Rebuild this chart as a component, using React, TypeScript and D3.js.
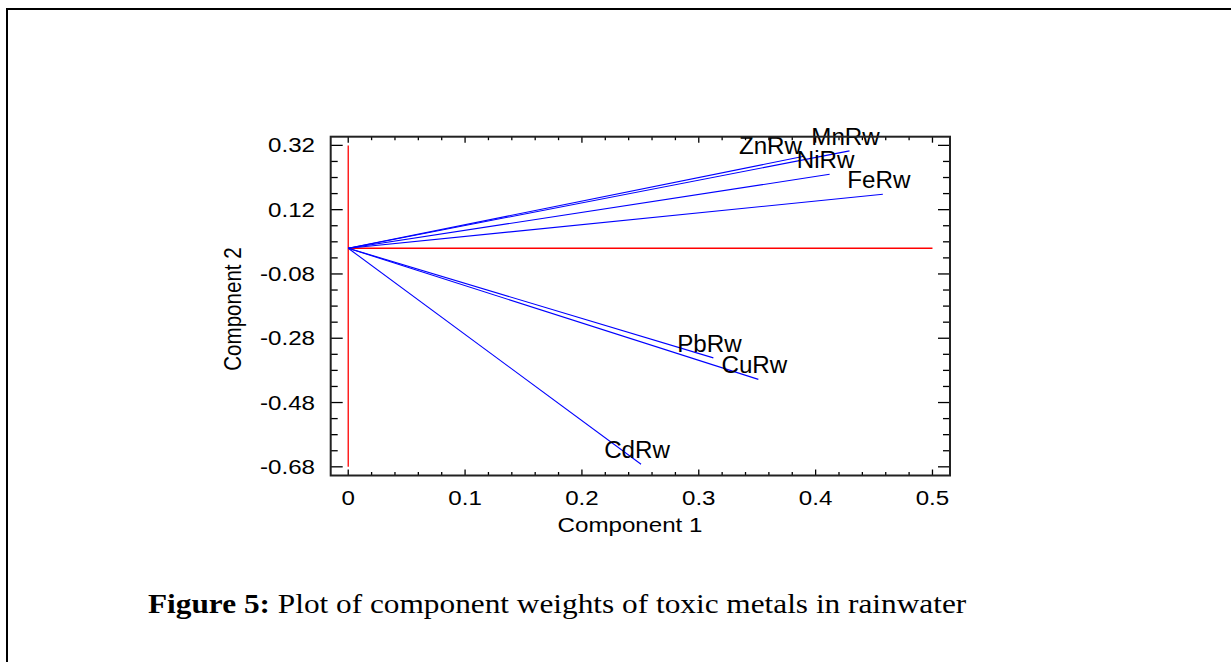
import React from 'react';
import * as d3 from 'd3';

// component weights
const variables = ['MnRw', 'ZnRw', 'NiRw', 'FeRw', 'PbRw', 'CuRw', 'CdRw'];
const component1 = [0.429, 0.39, 0.412, 0.4575, 0.3125, 0.351, 0.2506];
const component2 = [0.303, 0.286, 0.23, 0.168, -0.341, -0.408, -0.672];

const xTicks = [0, 0.1, 0.2, 0.3, 0.4, 0.5];
const yTicks = [0.32, 0.12, -0.08, -0.28, -0.48, -0.68];

const W = 1231;
const H = 662;
const plot = { left: 330.7, right: 950, top: 136.7, bottom: 475.5 };

const font = 'Liberation Sans, Arial, sans-serif';
const serif = 'Liberation Serif, Times New Roman, serif';

// hyphen instead of unicode minus, like the original
const fmtY = (v) => d3.format('.2f')(v).replace('\u2212', '-');

const App = () => {
    const x = d3.scaleLinear().domain([-0.015, 0.515]).range([plot.left, plot.right]);
    const y = d3.scaleLinear().domain([-0.707, 0.347]).range([plot.bottom, plot.top]);

    const xMinor = d3.range(0, 0.52, 0.02).filter(v => v <= 0.515);
    const yMinor = d3.range(0.32, -0.71, -0.05).filter(v => v >= -0.707);

    const labelOffset = (name) => (name === 'ZnRw' ? { dx: -2, dy: -2, anchor: 'end' } : { dx: -4, dy: -6, anchor: 'middle' });

    return (
        <div style={{ position: 'absolute', left: 0, top: 0 }}>
            <svg width={W} height={H} style={{ display: 'block', background: '#fff' }}>
                {/* outer frame */}
                <path d={`M7,${H + 5} V9 H${W + 5}`} fill="none" stroke="#000" strokeWidth={2} />

                {/* reference axes */}
                <line x1={x(0)} x2={x(0)} y1={y(0.32)} y2={y(-0.68)} stroke="#ff0000" strokeWidth={1.3} />
                <line x1={x(0)} x2={x(0.5)} y1={y(0)} y2={y(0)} stroke="#ff0000" strokeWidth={1.3} />

                {/* vectors */}
                {variables.map((v, i) => (
                    <line key={v} x1={x(0)} y1={y(0)} x2={x(component1[i])} y2={y(component2[i])}
                        stroke="#0000ff" strokeWidth={1.1} />
                ))}
                {variables.map((v, i) => {
                    const o = labelOffset(v);
                    return (
                        <text key={v} transform={`translate(${x(component1[i]) + o.dx},${y(component2[i]) + o.dy}) scale(1.05,1)`}
                            textAnchor={o.anchor} fontFamily={font} fontSize={23} fill="#000">{v}</text>
                    );
                })}

                {/* ticks */}
                {xMinor.map(t => {
                    const major = xTicks.some(m => Math.abs(m - t) < 1e-6);
                    const len = major ? 6 : 3.5;
                    return (
                        <g key={'x' + t}>
                            <line x1={x(t)} x2={x(t)} y1={plot.bottom} y2={plot.bottom - len} stroke="#000" strokeWidth={1.3} />
                            <line x1={x(t)} x2={x(t)} y1={plot.top} y2={plot.top + len} stroke="#000" strokeWidth={1.3} />
                        </g>
                    );
                })}
                {yMinor.map(t => {
                    const major = yTicks.some(m => Math.abs(m - t) < 1e-6);
                    const len = major ? 12 : 7;
                    return (
                        <g key={'y' + t}>
                            <line x1={plot.left} x2={plot.left + len} y1={y(t)} y2={y(t)} stroke="#000" strokeWidth={1.3} />
                            <line x1={plot.right} x2={plot.right - len} y1={y(t)} y2={y(t)} stroke="#000" strokeWidth={1.3} />
                        </g>
                    );
                })}

                <rect x={plot.left} y={plot.top} width={plot.right - plot.left} height={plot.bottom - plot.top}
                    fill="none" stroke="#222" strokeWidth={2} />

                {/* tick labels */}
                {xTicks.map(t => (
                    <text key={'xl' + t} transform={`translate(${x(t)},505) scale(1.15,1)`} textAnchor="middle"
                        fontFamily={font} fontSize={21} fill="#000">{d3.format('')(t)}</text>
                ))}
                {yTicks.map(t => (
                    <text key={'yl' + t} transform={`translate(315,${y(t) + 7}) scale(1.15,1)`} textAnchor="end"
                        fontFamily={font} fontSize={21} fill="#000">{fmtY(t)}</text>
                ))}

                {/* axis titles */}
                <text transform={`translate(630,532) scale(1.15,1)`} textAnchor="middle" fontFamily={font} fontSize={21}>Component 1</text>
                <text transform={`translate(241,309) rotate(-90) scale(0.98,1.15)`} textAnchor="middle" fontFamily={font} fontSize={21}>Component 2</text>

                {/* caption */}
                <text transform="translate(148,613) scale(1.16,1)" fontFamily={serif} fontSize={27} fill="#000">
                    <tspan fontWeight="bold">Figure 5:</tspan> Plot of component weights of toxic metals in rainwater
                </text>
            </svg>
        </div>
    );
};

export default App;
